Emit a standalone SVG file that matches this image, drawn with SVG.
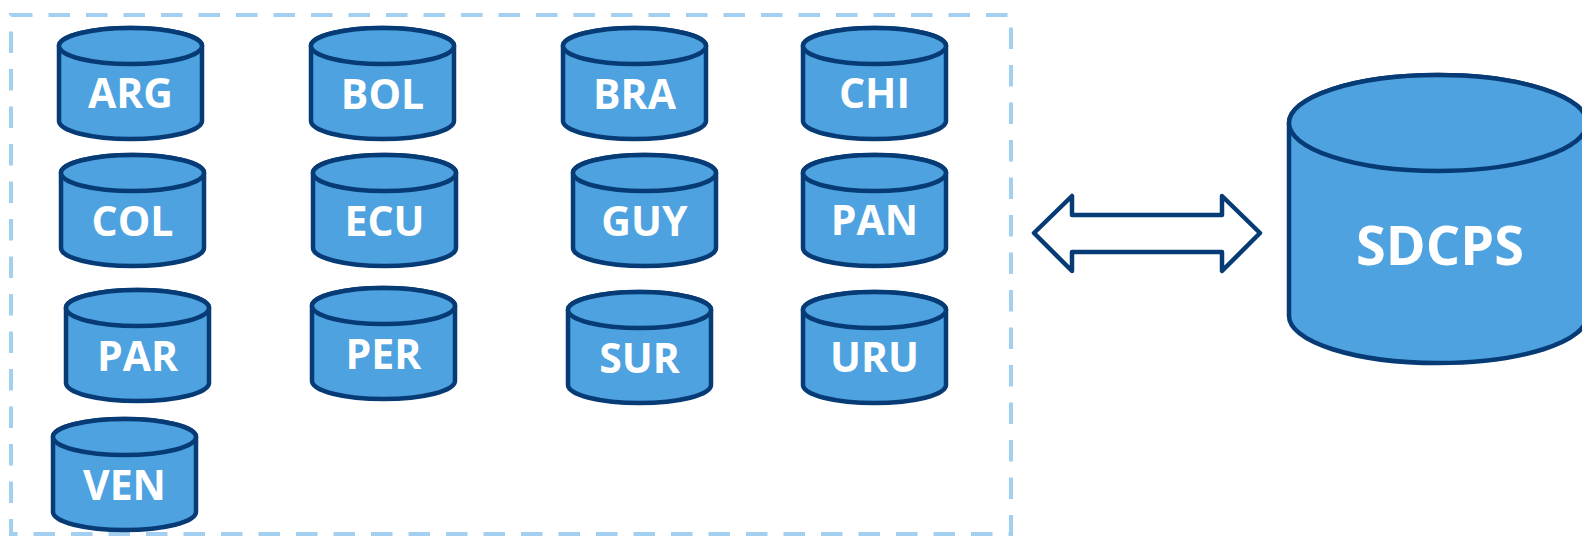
<svg xmlns="http://www.w3.org/2000/svg" xmlns:xlink="http://www.w3.org/1999/xlink" width="1582" height="536" viewBox="0 0 1582 536">
  <style>
    .cyl { fill: #4DA2DF; stroke: #073B76; stroke-width: 4.5; stroke-linejoin: round; }
    .lbl { font-family: "Open Sans", "Noto Sans", "Liberation Sans", sans-serif; font-weight: 700; fill: #FFFFFF; text-anchor: middle; }
    .small { font-size: 41px; }
    .big { font-size: 54px; }
    .frame { fill: none; stroke: #A3D0F0; stroke-width: 4; stroke-dasharray: 21.5 16; }
    .arrow { fill: #FFFFFF; stroke: #073B76; stroke-width: 4.5; stroke-linejoin: round; }
  </style>
  <defs>
    <g id="cyl">
      <path class="cyl" d="M0,18 V93 A71.5,18 0 0 0 143,93 V18 A71.5,18 0 0 0 0,18 Z"/>
      <ellipse class="cyl" cx="71.5" cy="18" rx="71.5" ry="18"/>
    </g>
  </defs>
  <rect width="1582" height="536" fill="#FFFFFF"/>
  <rect id="group-frame" class="frame" x="11" y="15" width="1000" height="519"/>

  <g id="node-ARG" transform="translate(59,28)"><use href="#cyl" xlink:href="#cyl"/><text class="lbl small" x="71.5" y="80">ARG</text></g>
  <g id="node-BOL" transform="translate(311,28)"><use href="#cyl" xlink:href="#cyl"/><text class="lbl small" x="71.5" y="81">BOL</text></g>
  <g id="node-BRA" transform="translate(563,28)"><use href="#cyl" xlink:href="#cyl"/><text class="lbl small" x="71.5" y="81">BRA</text></g>
  <g id="node-CHI" transform="translate(803,28)"><use href="#cyl" xlink:href="#cyl"/><text class="lbl small" x="71.5" y="80">CHI</text></g>

  <g id="node-COL" transform="translate(61,155)"><use href="#cyl" xlink:href="#cyl"/><text class="lbl small" x="71.5" y="81">COL</text></g>
  <g id="node-ECU" transform="translate(313,155)"><use href="#cyl" xlink:href="#cyl"/><text class="lbl small" x="71.5" y="81">ECU</text></g>
  <g id="node-GUY" transform="translate(573,155)"><use href="#cyl" xlink:href="#cyl"/><text class="lbl small" x="71.5" y="81">GUY</text></g>
  <g id="node-PAN" transform="translate(803,155)"><use href="#cyl" xlink:href="#cyl"/><text class="lbl small" x="71.5" y="80">PAN</text></g>

  <g id="node-PAR" transform="translate(66,290)"><use href="#cyl" xlink:href="#cyl"/><text class="lbl small" x="71.5" y="81">PAR</text></g>
  <g id="node-PER" transform="translate(312,288)"><use href="#cyl" xlink:href="#cyl"/><text class="lbl small" x="71.5" y="81">PER</text></g>
  <g id="node-SUR" transform="translate(568,292)"><use href="#cyl" xlink:href="#cyl"/><text class="lbl small" x="71.5" y="81">SUR</text></g>
  <g id="node-URU" transform="translate(803,292)"><use href="#cyl" xlink:href="#cyl"/><text class="lbl small" x="71.5" y="80">URU</text></g>

  <g id="node-VEN" transform="translate(53,419)"><use href="#cyl" xlink:href="#cyl"/><text class="lbl small" x="71.5" y="81">VEN</text></g>

  <g id="node-SDCPS">
    <path class="cyl" d="M1289,123 V316 A149,47 0 0 0 1587,316 V123 A149,48 0 0 0 1289,123 Z"/>
    <ellipse class="cyl" cx="1438" cy="123" rx="149" ry="48"/>
    <text class="lbl big" x="1440" y="265">SDCPS</text>
  </g>

  <g id="connectors">
    <path class="arrow" d="M1034,233 L1072,196 L1072,215 L1222,215 L1222,196 L1260,233 L1222,271 L1222,252 L1072,252 L1072,271 Z"/>
  </g>
</svg>
